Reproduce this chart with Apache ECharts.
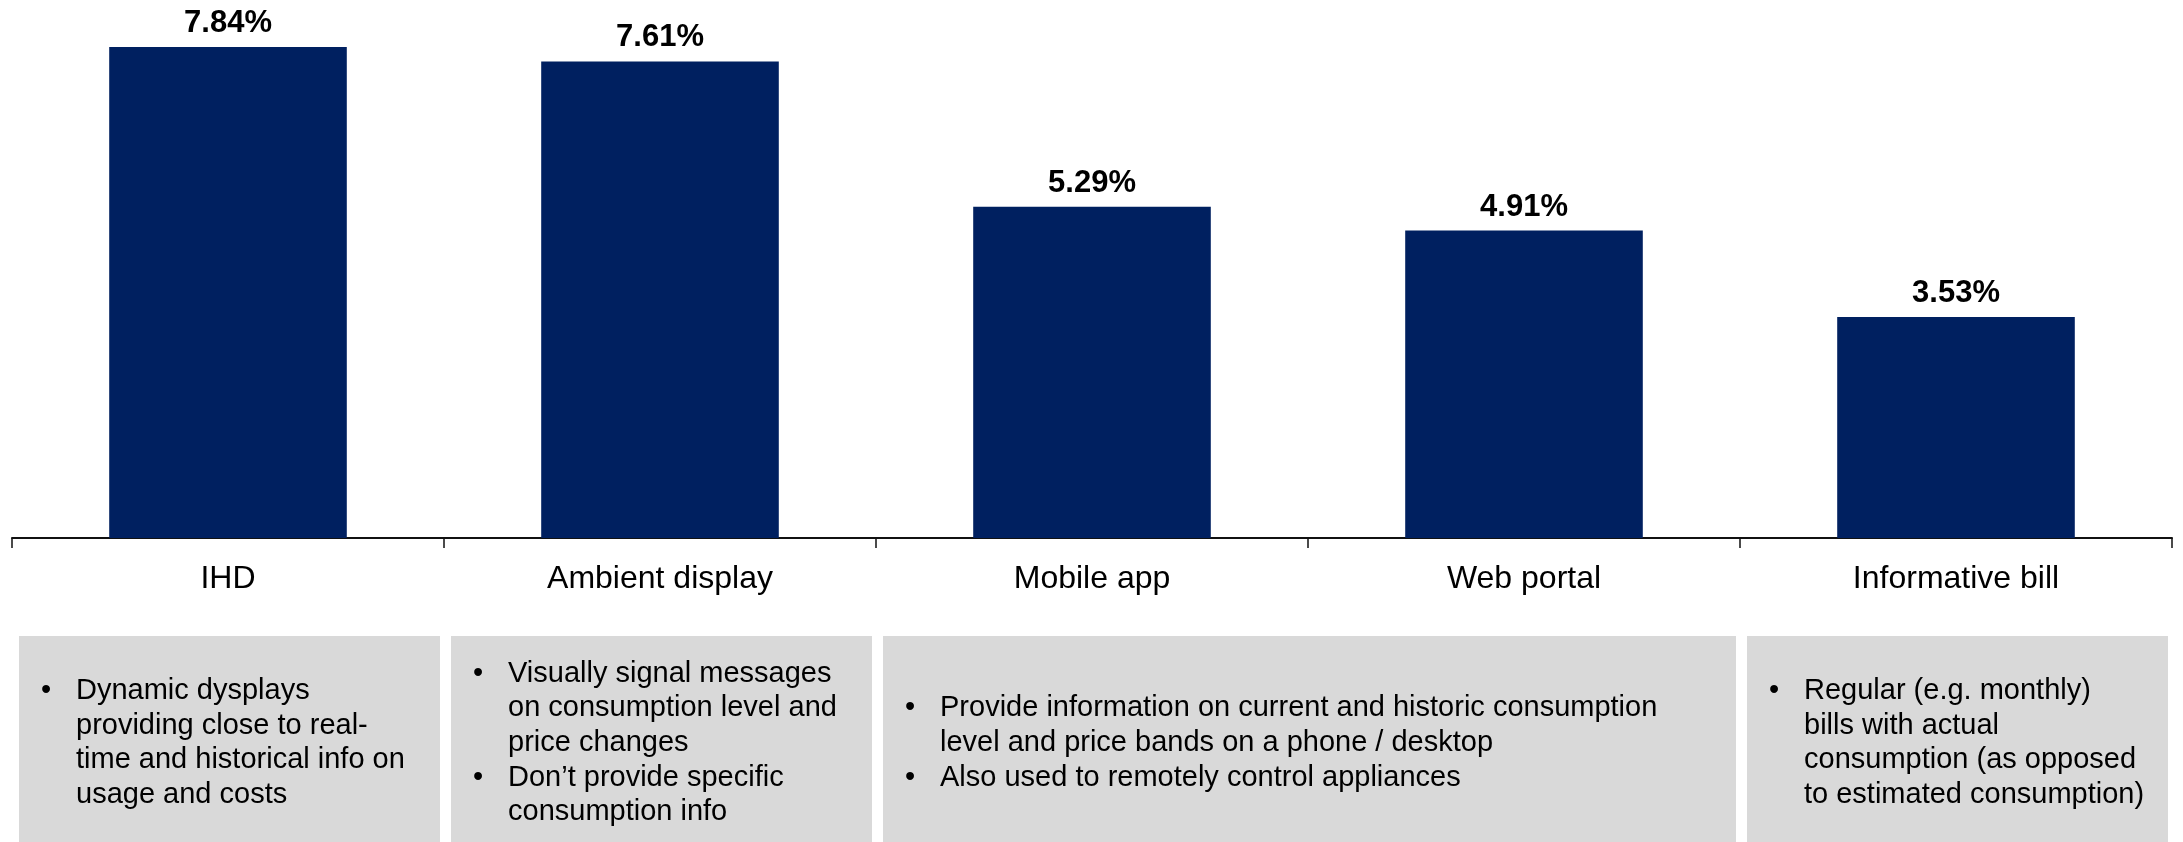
<!DOCTYPE html>
<html>
<head>
<meta charset="utf-8">
<script src="https://cdn.jsdelivr.net/npm/echarts@6/dist/echarts.min.js"></script>
<style>
html,body{margin:0;padding:0;background:#fff;}
#chart{width:2183px;height:842px;}
</style>
</head>
<body>
<div id="chart"></div>
<script>
// ---- data ----
const categories = ['IHD', 'Ambient display', 'Mobile app', 'Web portal', 'Informative bill'];
const values = [7.84, 7.61, 5.29, 4.91, 3.53];

// description boxes: which category index range each box covers, and bullets (each bullet = list of wrapped lines)
const boxSpans = [[0, 0], [1, 1], [2, 3], [4, 4]];
const boxBullets = [
  [["Dynamic dysplays", "providing close to real-", "time and historical info on", "usage and costs"]],
  [["Visually signal messages", "on consumption level and", "price changes"], ["Don\u2019t provide specific", "consumption info"]],
  [["Provide information on current and historic consumption", "level and price bands on a phone / desktop"], ["Also used to remotely control appliances"]],
  [["Regular (e.g. monthly)", "bills with actual", "consumption (as opposed", "to estimated consumption)"]]
];

const FONT = "'Liberation Sans', Arial, Helvetica, sans-serif";
const chart = echarts.init(document.getElementById('chart'));

const gridLeft = 12, gridRight = 11, W = 2183;
const catW = (W - gridLeft - gridRight) / categories.length;

function buildGraphics() {
  const els = [];
  const boxTop = 636, boxBottom = 842;
  const lineH = 34.7;
  const centerY = (boxTop + boxBottom) / 2 + 4;
  boxSpans.forEach((span, i) => {
    const x0 = gridLeft + span[0] * catW + 7;
    const x1 = gridLeft + (span[1] + 1) * catW - 4;
    els.push({
      type: 'rect', shape: {x: x0, y: boxTop, width: x1 - x0, height: boxBottom - boxTop},
      style: {fill: '#D9D9D9'}, silent: true
    });
    const bullets = boxBullets[i];
    const nLines = bullets.reduce((s, b) => s + b.length, 0);
    let y = centerY - (nLines - 1) / 2 * lineH;
    bullets.forEach(lines => {
      els.push({
        type: 'text', x: x0 + 22, y: y,
        style: {text: '\u2022', font: '29px ' + FONT, fill: '#000', verticalAlign: 'middle', align: 'left'},
        silent: true
      });
      lines.forEach(line => {
        els.push({
          type: 'text', x: x0 + 57, y: y,
          style: {text: line, font: '29px ' + FONT, fill: '#000', verticalAlign: 'middle', align: 'left'},
          silent: true
        });
        y += lineH;
      });
    });
  });
  return els;
}

chart.setOption({
  animation: false,
  backgroundColor: '#fff',
  grid: {left: gridLeft, right: gridRight, top: 37, bottom: 304, containLabel: false},
  xAxis: {
    type: 'category',
    data: categories,
    axisLine: {show: true, lineStyle: {color: '#111', width: 2}},
    axisTick: {show: true, length: 10, lineStyle: {color: '#111', width: 1.5}},
    axisLabel: {fontFamily: FONT, fontSize: 32, color: '#000', margin: 25}
  },
  yAxis: {
    type: 'value', min: 0, max: 8,
    show: false,
    splitLine: {show: false}
  },
  series: [{
    type: 'bar',
    data: values,
    barWidth: '55%',
    itemStyle: {color: '#002060'},
    label: {
      show: true, position: 'top', distance: 8,
      formatter: p => p.value.toFixed(2) + '%',
      fontFamily: FONT, fontSize: 31, fontWeight: 'bold', color: '#000'
    }
  }],
  graphic: buildGraphics()
});
</script>
</body>
</html>
